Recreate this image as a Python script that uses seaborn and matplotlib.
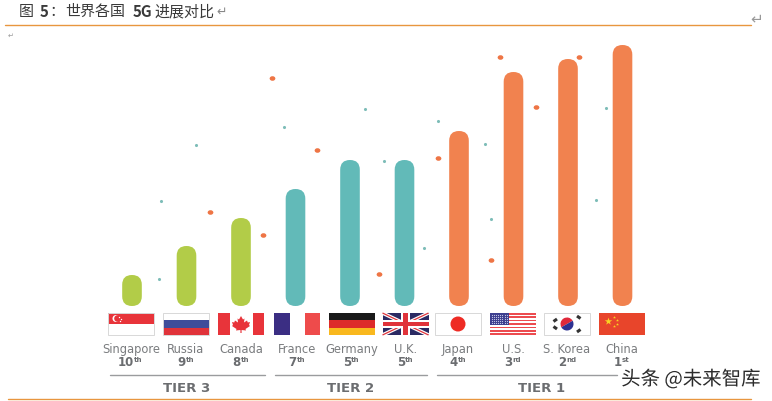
import matplotlib
matplotlib.use('Agg')
import matplotlib.pyplot as plt
import matplotlib.patheffects as pe
from matplotlib.markers import MarkerStyle
from matplotlib.transforms import Affine2D
import seaborn as sns
import numpy as np
from matplotlib.patches import FancyBboxPatch, Rectangle, Circle, Wedge, Polygon

# Data
countries = ['Singapore', 'Russia', 'Canada', 'France', 'Germany', 'U.K.', 'Japan', 'U.S.', 'S. Korea', 'China']
scores = [31, 60, 88, 117, 146, 146, 175, 234, 247, 261]
tiers = ['TIER 3'] * 3 + ['TIER 2'] * 3 + ['TIER 1'] * 4
rank_num = ['10', '9', '8', '7', '5', '5', '4', '3', '2', '1']
rank_suffix = ['th', 'th', 'th', 'th', 'th', 'th', 'th', 'rd', 'nd', 'st']
tier_names = ['TIER 3', 'TIER 2', 'TIER 1']
tier_colors = ['#B2CC48', '#62BAB8', '#F1824F']

orange_dots_x = [271.7, 210.3, 263.3, 316.7, 378.7, 438, 499.7, 535.7, 490.7, 578.7]
orange_dots_y = [77.7, 211.7, 234.7, 150, 274.3, 158, 57, 106.7, 259.7, 56.7]
teal_dots_x = [161, 159, 196.3, 284, 365, 383.7, 424, 438, 484.7, 491, 595.7, 606]
teal_dots_y = [201.3, 279, 145.3, 127, 109.3, 161, 248.3, 121.3, 144.3, 218.7, 200.3, 107.7]

W, H = 772, 401
sns.set_theme(style='white')
plt.rcParams['font.family'] = ['Noto Sans CJK SC', 'DejaVu Sans']
LAT = ['DejaVu Sans']

fig = plt.figure(figsize=(W / 100, H / 100), dpi=100, facecolor='white')

# bars axes, 1 unit of y = 1 pixel
step = 54.5
left = 132 - step / 2
ax = fig.add_axes([left / W, (H - 306) / H, step * 10 / W, 266 / H])
sns.barplot(x=countries, y=scores, hue=tiers, hue_order=tier_names, palette=tier_colors,
            dodge=False, width=0.36, legend=False, saturation=1, ax=ax)
ax.set_xlim(-0.5, 9.5)
ax.set_ylim(0, 266)
ax.axis('off')

# swap rectangles for rounded bars
for p in list(ax.patches):
    if p.get_height() == 0:
        continue
    x, y, w, h = p.get_x(), p.get_y(), p.get_width(), p.get_height()
    ax.add_patch(FancyBboxPatch((x, y), w, h, boxstyle='round,pad=0,rounding_size=0.178',
                                mutation_aspect=step, fc=p.get_facecolor(), ec='none'))
    p.remove()

# overlay in pixel coordinates
ov = fig.add_axes([0, 0, 1, 1], zorder=3)
ov.set_xlim(0, W)
ov.set_ylim(H, 0)
ov.axis('off')
ov.patch.set_alpha(0)

oval = MarkerStyle('o', transform=Affine2D().scale(1, 0.8))
sns.scatterplot(x=orange_dots_x, y=orange_dots_y, color='#EE7545', s=17, linewidth=0, marker=oval,
                ax=ov, legend=False)
sns.scatterplot(x=teal_dots_x, y=teal_dots_y, color='#7DBDB8', s=5, linewidth=0, ax=ov, legend=False)


def rect(x, y, w, h, c, z=4):
    ov.add_patch(Rectangle((x, y), w, h, fc=c, ec='none', zorder=z))


def flag(name, x0):
    y0, w, h = 313, 46, 22
    cx, cy = x0 + w / 2, y0 + h / 2
    frame = '#D8D8D8'
    if name == 'Singapore':
        rect(x0, y0, w, h / 2, '#E8343A')
        ov.add_patch(Rectangle((x0, y0), w, h, fc='none', ec=frame, lw=0.7, zorder=5))
        ov.add_patch(Circle((x0 + 8, y0 + 5.5), 3.5, fc='white', ec='none', zorder=5))
        ov.add_patch(Circle((x0 + 9.5, y0 + 5.5), 3.3, fc='#E8343A', ec='none', zorder=5))
        ov.scatter([x0 + 11, x0 + 13, x0 + 12], [y0 + 4, y0 + 5.5, y0 + 7.5], s=1, c='white', lw=0, zorder=6)
    elif name == 'Russia':
        rect(x0, y0, w, h / 3, 'white')
        rect(x0, y0 + h / 3, w, h / 3, '#3F4D9B')
        rect(x0, y0 + 2 * h / 3, w, h / 3, '#E0333A')
        ov.add_patch(Rectangle((x0, y0), w, h, fc='none', ec=frame, lw=0.7, zorder=5))
    elif name == 'Canada':
        rect(x0, y0, 11.5, h, '#E8343A')
        rect(x0 + w - 11.5, y0, 11.5, h, '#E8343A')
        leaf = np.array([[0, -8], [2, -4.5], [3.5, -5.5], [3, -1.5], [6, -3.5], [6.8, -1.5], [9, -2], [8, 1],
                         [9, 2], [4.5, 5], [5, 6.5], [0.6, 6], [0.6, 9], [-0.6, 9], [-0.6, 6], [-5, 6.5],
                         [-4.5, 5], [-9, 2], [-8, 1], [-9, -2], [-6.8, -1.5], [-6, -3.5], [-3, -1.5],
                         [-3.5, -5.5], [-2, -4.5]])
        ov.add_patch(Polygon(leaf + [cx, cy], fc='#E8343A', ec='none', zorder=5))
    elif name == 'France':
        rect(x0, y0, 15.5, h, '#3B2E83')
        rect(x0 + w - 15.5, y0, 15.5, h, '#EE4B4B')
    elif name == 'Germany':
        rect(x0, y0, w, h / 3, '#1A1A1A')
        rect(x0, y0 + h / 3, w, h / 3, '#DD2A2A')
        rect(x0, y0 + 2 * h / 3, w, h / 3, '#F9B81E')
    elif name == 'U.K.':
        rect(x0, y0, w, h, '#2B2A63')
        ov.plot([x0, x0 + w], [y0, y0 + h], color='white', lw=2.6, zorder=5, solid_capstyle='butt')
        ov.plot([x0, x0 + w], [y0 + h, y0], color='white', lw=2.6, zorder=5, solid_capstyle='butt')
        ov.plot([x0, x0 + w], [y0, y0 + h], color='#E0333A', lw=0.9, zorder=5, solid_capstyle='butt')
        ov.plot([x0, x0 + w], [y0 + h, y0], color='#E0333A', lw=0.9, zorder=5, solid_capstyle='butt')
        rect(cx - 4.5, y0, 9, h, 'white', 6)
        rect(x0, cy - 4, w, 8, 'white', 6)
        rect(cx - 2.5, y0, 5, h, '#E0333A', 7)
        rect(x0, cy - 2, w, 4, '#E0333A', 7)
    elif name == 'Japan':
        ov.add_patch(Rectangle((x0, y0), w, h, fc='white', ec=frame, lw=0.7, zorder=5))
        ov.add_patch(Circle((cx, cy), 7.5, fc='#EE2B24', ec='none', zorder=6))
    elif name == 'U.S.':
        for i in range(7):
            rect(x0, y0 + i * 2 * h / 13, w, h / 13, '#EC4B4F')
        rect(x0, y0, 18.5, h * 7 / 13, '#3D3F8F', 5)
        xs, ys = np.meshgrid(np.arange(x0 + 1.5, x0 + 18, 2.2), np.arange(y0 + 1.5, y0 + 11.5, 2.2))
        ov.scatter(xs.ravel(), ys.ravel(), s=0.7, c='#C9CBEA', lw=0, zorder=6)
    elif name == 'S. Korea':
        ov.add_patch(Rectangle((x0, y0), w, h, fc='white', ec=frame, lw=0.7, zorder=5))
        ov.add_patch(Wedge((cx, cy), 6.5, 150, 330, fc='#E0283A', ec='none', zorder=6))
        ov.add_patch(Wedge((cx, cy), 6.5, 330, 150, fc='#2E3192', ec='none', zorder=6))
        for sx in (-1, 1):
            for sy in (-1, 1):
                a = 1 if sx == sy else -1
                ov.plot([cx + sx * 10, cx + sx * 13.5], [cy + sy * 6.5 + a * 1.5, cy + sy * 4 + a * 1.5],
                        color='#333333', lw=2.2, zorder=6, solid_capstyle='butt')
    elif name == 'China':
        rect(x0, y0, w, h, '#E8452B')
        ov.scatter([x0 + 8.5], [y0 + 8], marker='*', s=32, c='#F9D423', lw=0, zorder=6)
        ov.scatter([x0 + 15, x0 + 17.5, x0 + 17.5, x0 + 15], [y0 + 4, y0 + 7, y0 + 10.5, y0 + 13],
                   marker='*', s=5, c='#F9D423', lw=0, zorder=6)


flag_x = [108, 163, 218, 274, 328.5, 382.5, 435, 490, 544, 599]
for name, fx, num, suf in zip(countries, flag_x, rank_num, rank_suffix):
    flag(name, fx)
    cx = fx + 23
    ov.text(cx, 349.5, name, ha='center', va='center', fontsize=8.3, color='#7A7C7F', family=LAT)
    nudge = 3 if len(num) == 2 else -0.5
    ov.text(cx + nudge, 362.5, num, ha='right', va='center', fontsize=8.5, fontweight='bold',
            color='#6B6D70', family=LAT)
    ov.text(cx + nudge + 0.3, 360, suf, ha='left', va='center', fontsize=5, fontweight='bold',
            color='#6B6D70', family=LAT)

# tier brackets
tier_spans = [(110, 265), (275, 427), (437, 617)]
for a, b in tier_spans:
    ov.plot([a, b], [375, 375], color='#9A9C9E', lw=1, zorder=4)
for t, tx in zip(tier_names, [187, 351, 542]):
    ov.text(tx, 388, t, ha='center', va='center', fontsize=9.5, fontweight='bold', color='#6B6D70', family=LAT)

# header
ov.plot([5, 751], [24.5, 24.5], color='#E8963F', lw=1, zorder=4)
ov.plot([8, 751], [399, 399], color='#E8963F', lw=1, zorder=4)
title_parts = [(19, '图', 'normal'), (40, '5', 'bold'), (49, '：', 'normal'), (65, '世界各国', 'normal'),
               (133, '5G', 'bold'), (154, '进展对比', 'normal')]
for tx, s, wt in title_parts:
    ov.text(tx, 12, s, ha='left', va='center', fontsize=10.8, fontweight=wt, color='#3A3A3A')
ov.text(216, 12, '↵', ha='left', va='center', fontsize=9, color='#888888', family='DejaVu Sans')
ov.text(750, 19, '↵', ha='left', va='center', fontsize=11, color='#999999', family='DejaVu Sans')
ov.text(8, 36, '↵', ha='left', va='center', fontsize=5, color='#999999', family='DejaVu Sans')

# watermark
wm = ov.text(761, 379.5, '头条 @未来智库', ha='right', va='center', fontsize=14, color='#2B2B2B', zorder=9)
wm.set_path_effects([pe.withStroke(linewidth=2.5, foreground='white')])

fig.savefig('out.png', dpi=100, facecolor='white')
